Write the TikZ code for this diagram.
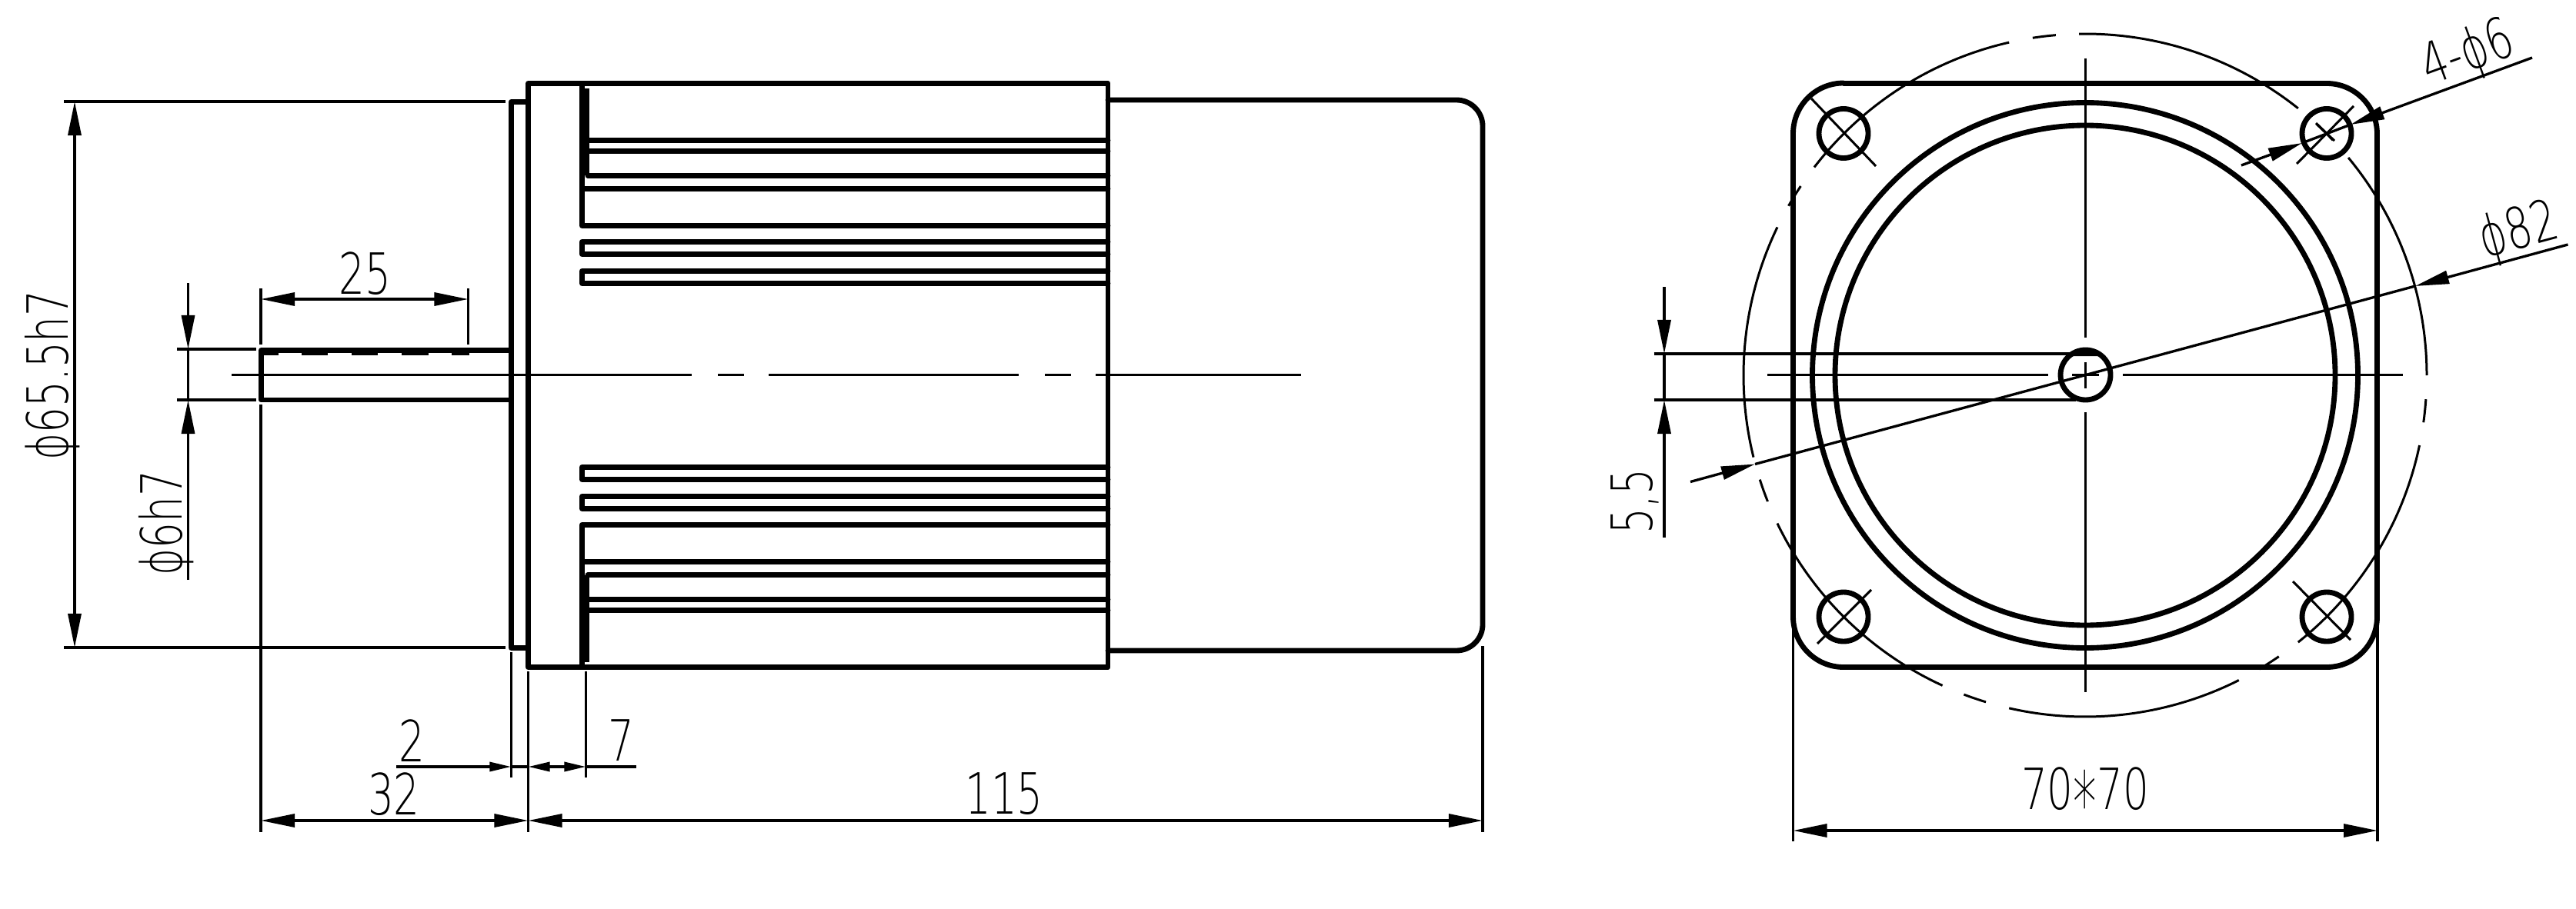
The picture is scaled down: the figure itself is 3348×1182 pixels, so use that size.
\documentclass[tikz,border=0pt]{standalone}
\usepackage{fontspec}
\usetikzlibrary{arrows.meta,calc}
\newfontfamily\cadfont{DejaVu Sans ExtraLight}
\tikzset{
  x=0.01cm, y=-0.01cm,
  heavy/.style={line width=1.95pt, line join=round, line cap=round},
  ring/.style={line width=1.95pt},
  thin/.style={line width=0.85pt},
  dim/.style={line width=0.95pt},
  bb/.style={arrows={Triangle[length=0.44cm,width=0.17cm]-Triangle[length=0.44cm,width=0.17cm]}},
  be/.style={arrows={-Triangle[length=0.44cm,width=0.17cm]}},
  se/.style={arrows={-Triangle[length=0.28cm,width=0.12cm]}},
  lab/.style={inner sep=0pt, font=\cadfont\fontsize{21pt}{21pt}\selectfont, xscale=.72, transform shape},
  bc/.style={line width=0.85pt},
}
\begin{document}
\begin{tikzpicture}
\useasboundingbox (0,0) rectangle (3348,1182);
% ---------- left view ----------
\coordinate (mTL) at (686.5,108.5);
\coordinate (mBR) at (1440,867.5);
\draw[heavy] (mTL) rectangle (mBR);
\draw[heavy] (686.5,132.5) -- (664.5,132.5) -- (664.5,842.5) -- (686.5,842.5);
% cover
\draw[heavy] (1440,130) -- (1893,130) arc[start angle=-90,end angle=0,radius=34] -- (1927,812) arc[start angle=0,end angle=90,radius=34] -- (1440,846);
% shaft
\draw[heavy] (664.5,455.5) -- (339.5,455.5) -- (339.5,520) -- (664.5,520);
\foreach \a/\b in {343/362,392/426,457/491,522/557,587/610}
  \fill (\a,457) rectangle (\b,462);
% fin root heavy
\draw[line width=3.7pt] (759.5,115) -- (759.5,228.5);
\draw[line width=3.7pt] (759.5,861) -- (759.5,747.5);
\fill (753,108) rectangle (760,115);
\fill (753,861) rectangle (760,868);
% fins upper
\draw[heavy] (764,182.5) -- (1440,182.5);
\draw[heavy] (764,196.5) -- (1440,196.5);
\draw[heavy] (764,228.5) -- (1440,228.5);
\draw[heavy] (756.5,228.5) -- (756.5,293.5) -- (1440,293.5);
\draw[heavy] (756.5,245.5) -- (1440,245.5);
\draw[heavy] (1440,314.5) -- (756.5,314.5) -- (756.5,330.5) -- (1440,330.5);
\draw[heavy] (1440,352.5) -- (756.5,352.5) -- (756.5,368.5) -- (1440,368.5);
% fins lower
\draw[heavy] (764,793.5) -- (1440,793.5);
\draw[heavy] (764,779.5) -- (1440,779.5);
\draw[heavy] (764,747.5) -- (1440,747.5);
\draw[heavy] (756.5,747.5) -- (756.5,682.5) -- (1440,682.5);
\draw[heavy] (756.5,730.5) -- (1440,730.5);
\draw[heavy] (1440,661.5) -- (756.5,661.5) -- (756.5,645.5) -- (1440,645.5);
\draw[heavy] (1440,623.5) -- (756.5,623.5) -- (756.5,607.5) -- (1440,607.5);
% centre line
\foreach \a/\b in {301/899,933/967,999/1324,1358/1392,1424/1691}
  \draw[thin] (\a,487.5) -- (\b,487.5);
% dimension: 65.5
\coordinate (d65a) at (97,132); \coordinate (d65b) at (97,842);
\draw[dim] (83,132) -- (657,132);
\draw[dim] (83,842) -- (657,842);
\draw[dim,bb] (d65a) -- (d65b);
\node[rotate=90,lab] (t655) at (68,488) {ϕ65.5h7};
% dimension: shaft dia
\draw[dim] (230,454) -- (333,454);
\draw[dim] (230,520) -- (333,520);
\coordinate (d6a) at (244.5,454); \coordinate (d6b) at (244.5,520);
\draw[dim,be] (244.5,368) -- (d6a);
\draw[dim] (d6a) -- (d6b);
\draw[dim,be] (244.5,754) -- (d6b);
\node[rotate=90,lab] (t6) at (216,680) {ϕ6h7};
% dimension: 25
\draw[dim] (339,375) -- (339,448);
\draw[dim] (608.5,375) -- (608.5,448);
\draw[dim,bb] (339,389) -- (608.5,389);
\node[lab] (t25) at (474.5,356) {25};
% extension lines below
\draw[dim] (339,526) -- (339,1082);
\draw[dim] (664.3,848) -- (664.3,1011);
\draw[dim] (686.5,873) -- (686.5,1082);
\draw[dim] (761.5,873) -- (761.5,1011);
\draw[dim] (1927,840) -- (1927,1082);
% dimension: 2 and 7
\draw[dim,se] (515,997) -- (664.3,997);
\draw[dim,se] (720,997) -- (686.5,997);
\draw[dim] (664.3,997) -- (686.5,997);
\draw[dim,se] (733,997) -- (761.5,997);
\draw[dim] (761.5,997) -- (827,997);
\draw[dim] (720,997) -- (733,997);
\node[lab] (t2) at (535,963) {2};
\node[lab] (t7) at (807.5,963) {7};
% dimension: 32 and 115
\draw[dim,bb] (339,1067) -- (686.5,1067);
\draw[dim,bb] (686.5,1067) -- (1927,1067);
\node[lab] (t32) at (512,1033) {32};
\node[lab] (t115) at (1305,1032) {115};
% ---------- right view ----------
\coordinate (O) at (2710,488);
\draw[heavy] (2396,108.5) -- (3024,108.5) arc[start angle=-90,end angle=0,radius=65.5] -- (3089.5,802) arc[start angle=0,end angle=90,radius=65.5] -- (2396,867.5) arc[start angle=90,end angle=180,radius=65.5] -- (2330.5,173.5) arc[start angle=180,end angle=270,radius=65.5] -- cycle;
\draw[ring] (O) circle[radius=354.5];
\draw[ring] (O) circle[radius=325];
% holes
\foreach \hx/\hy in {2396/173.5,3024/173.5,2396/802,3024/802}
  \draw[ring] (\hx,\hy) circle[radius=32];
% shaft circle
\draw[ring] (2710.5,487.5) circle[radius=32.5];
\fill (2710.5,487.5) ++(-48.6:32.5) arc[start angle=-48.6,end angle=-131.4,radius=32.5] -- cycle;
% bolt circle
\foreach \s in {0,51.43,102.86,154.29,205.71,257.14,308.57}{
  \draw[bc] ($(O)+(-\s:444)$) arc[start angle=-\s,delta angle=-39.6,radius=444];
  \draw[bc] ($(O)+(-\s-43.5:444)$) arc[start angle=-\s-43.5,delta angle=-3.9,radius=444];
}
% radial marks
\draw[thin] (2354,128) -- (2438,216);
\draw[thin] (2432,767) -- (2362,837);
\draw[thin] (2980,756) -- (3055,832);
\draw[thin] (3059,138) -- (2985,213);
\draw[thin] (3010,160) -- (3034,183);
% centre lines
\draw[thin] (2297,487.5) -- (2662,487.5);
\draw[dim] (2693,487.5) -- (2727.5,487.5);
\draw[thin] (2759,487.5) -- (3123,487.5);
\draw[thin] (2710,76) -- (2710,439);
\draw[thin] (2710,471) -- (2710,505);
\draw[thin] (2710,536) -- (2710,900);
% dimension: 5,5
\draw[dim] (2149.5,460) -- (2690,460);
\draw[dim] (2149.5,520) -- (2698,520);
\coordinate (d55a) at (2163,460); \coordinate (d55b) at (2163,520);
\draw[dim,be] (2163,373) -- (d55a);
\draw[dim] (d55a) -- (d55b);
\draw[dim,be] (2163,699) -- (d55b);
\node[rotate=90,lab] (t55) at (2125,652) {5,5};
% leader: 82
\coordinate (l82a) at (2197,626.5); \coordinate (l82b) at (3337.5,318);
\coordinate (l82c) at (2281,603.5); \coordinate (l82d) at (3139,372);
\draw[dim,be] (l82a) -- (l82c);
\draw[dim] (l82c) -- (l82d);
\draw[dim,be] (l82b) -- (l82d);
\node[rotate=15,lab] (t82) at (3274,303) {ϕ82};
% leader: 4-6
\coordinate (l6a) at (2913,215); \coordinate (l6b) at (3291,75);
\coordinate (l6c) at (2992,186); \coordinate (l6d) at (3055,162);
\draw[dim,be] (l6a) -- (l6c);
\draw[dim] (l6c) -- (l6d);
\draw[dim,be] (l6b) -- (l6d);
\node[rotate=20,lab] (t46) at (3208,72) {4-ϕ6};
% dimension: 70*70
\draw[dim] (2330.5,802) -- (2330.5,1094);
\draw[dim] (3090,802) -- (3090,1094);
\draw[dim,bb] (2330.5,1080) -- (3090,1080);
\node[lab] (t70) at (2710,1041) {70\raisebox{-0.42em}{\scalebox{1.15}[1.5]{*}}70};
\end{tikzpicture}
\end{document}
